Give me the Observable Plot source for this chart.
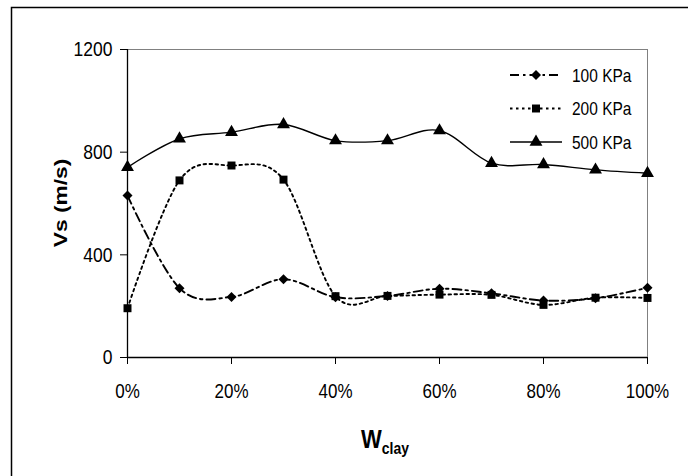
<!DOCTYPE html>
<html>
<head>
<meta charset="utf-8">
<script src="https://cdn.jsdelivr.net/npm/d3@7"></script>
<script src="https://cdn.jsdelivr.net/npm/@observablehq/plot@0.6"></script>
<style>
  html, body { margin: 0; padding: 0; background: #fff; color: #000; }
  #chart { position: relative; width: 688px; height: 476px; overflow: hidden; }
</style>
</head>
<body>
<div id="chart"></div>
<script>
// ---- data ----
const clayFraction = [0, 0.1, 0.2, 0.3, 0.4, 0.5, 0.6, 0.7, 0.8, 0.9, 1.0];
const vs100 = [631, 270, 236, 305, 235, 240, 268, 250, 222, 231, 272];
const vs200 = [192, 690, 748, 693, 239, 240, 245, 244, 205, 233, 232];
const vs500 = [741, 852, 878, 908, 845, 845, 884, 757, 752, 731, 718];
const seriesNames = ["100 KPa", "200 KPa", "500 KPa"];
const xTicks = [0, 0.2, 0.4, 0.6, 0.8, 1.0];
const yTicks = [0, 400, 800, 1200];

const seriesValues = [vs100, vs200, vs500];
const symbols = ["diamond2", "square", "triangle"];
const dashes = ["9,4,2.5,4", "2.5,3.5", null];
const radii = [4.5, 4.5, 4.8];
const FONT = "'Liberation Sans', Arial, sans-serif";
const STRETCH = 1.2;

const rows = seriesNames.flatMap((name, i) =>
  clayFraction.map((x, j) => ({series: name, x, y: seriesValues[i][j]})));

const marks = [
  Plot.frame({stroke: "#808080", strokeWidth: 1})
];
seriesNames.forEach((name, i) => {
  const d = rows.filter(r => r.series === name);
  marks.push(Plot.line(d, {
    x: "x", y: "y", curve: "cardinal", tension: 0,
    stroke: "#000", strokeWidth: i === 2 ? 1.4 : 1.9,
    strokeDasharray: dashes[i]
  }));
});
seriesNames.forEach((name, i) => {
  const d = rows.filter(r => r.series === name);
  marks.push(Plot.dot(d, {
    x: "x", y: "y", symbol: () => symbols[i], r: radii[i],
    fill: "#000", stroke: "none"
  }));
});
marks.push(Plot.ruleX([0], {stroke: "#000", strokeWidth: 1.3}));
marks.push(Plot.ruleY([0], {stroke: "#000", strokeWidth: 1.3}));
marks.push(Plot.axisX({ticks: xTicks, tickFormat: d3.format(".0%"), tickSize: 7, tickPadding: 19, label: null, fontSize: 17, fontFamily: FONT}));
marks.push(Plot.axisY({ticks: yTicks, tickFormat: d3.format("d"), tickSize: 7, tickPadding: 8, label: null, fontSize: 17.5, fontFamily: FONT}));

const svg = Plot.plot({
  width: 688, height: 476,
  marginLeft: 127, marginRight: 41, marginTop: 49, marginBottom: 119,
  x: {domain: [0, 1]},
  y: {domain: [0, 1200]},
  style: {fontFamily: FONT, fontSize: "17px", background: "transparent", color: "#000"},
  marks
});
document.getElementById("chart").appendChild(svg);

const s = d3.select(svg);
// stretch tick labels vertically like the reference
s.selectAll('g[aria-label="x-axis tick label"] text, g[aria-label="y-axis tick label"] text')
  .each(function () {
    const t = this.getAttribute("transform") || "";
    this.setAttribute("transform", t + ` scale(1,${STRETCH})`);
  });

// outer frame (left and top visible)
s.append("path").attr("d", "M11.5,476 V7.5 H688").attr("fill", "none").attr("stroke", "#000").attr("stroke-width", 1.5);

// axis titles
s.append("text")
  .attr("transform", `translate(60,203) rotate(-90) scale(${STRETCH},1)`)
  .attr("text-anchor", "middle")
  .attr("dy", "0.36em")
  .attr("font-family", FONT)
  .attr("font-weight", "bold").attr("font-size", 19)
  .text("Vs (m/s)");
const xt = s.append("text")
  .attr("transform", `translate(361,448) scale(1,${STRETCH})`)
  .attr("text-anchor", "start")
  .attr("font-family", FONT)
  .attr("font-weight", "bold").attr("font-size", 22);
xt.append("tspan").text("W");
xt.append("tspan").attr("dy", 5).attr("font-size", 14).text("clay");

// legend
const lg = s.append("g").attr("font-family", FONT).attr("font-size", 15.5).attr("text-anchor", "start");
seriesNames.forEach((name, i) => {
  const yy = 75 + i * 33.5;
  lg.append("line").attr("x1", 510).attr("x2", 562).attr("y1", yy).attr("y2", yy)
    .attr("stroke", "#000").attr("stroke-width", i === 2 ? 1.4 : 1.9)
    .attr("stroke-dasharray", dashes[i]);
  const symType = [d3.symbolDiamond2, d3.symbolSquare, d3.symbolTriangle][i];
  lg.append("path").attr("transform", `translate(536,${yy})`)
    .attr("d", d3.symbol(symType, Math.PI * radii[i] * radii[i])()).attr("fill", "#000");
  lg.append("text").attr("transform", `translate(572,${yy}) scale(1,${STRETCH})`)
    .attr("dy", "0.36em").text(name);
});
</script>
</body>
</html>
